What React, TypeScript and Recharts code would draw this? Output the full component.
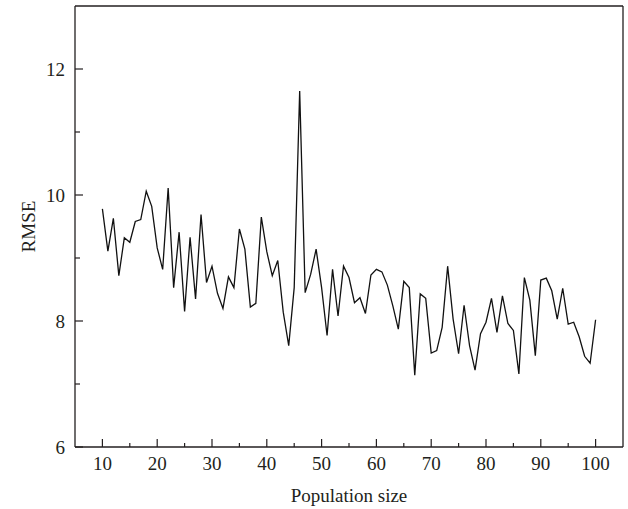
import { Line, LineChart, ReferenceLine, XAxis, YAxis } from "recharts";

const populationSizes = [
  10, 11, 12, 13, 14, 15, 16, 17, 18, 19, 20, 21, 22, 23, 24, 25, 26, 27, 28, 29,
  30, 31, 32, 33, 34, 35, 36, 37, 38, 39, 40, 41, 42, 43, 44, 45, 46, 47, 48, 49,
  50, 51, 52, 53, 54, 55, 56, 57, 58, 59, 60, 61, 62, 63, 64, 65, 66, 67, 68, 69,
  70, 71, 72, 73, 74, 75, 76, 77, 78, 79, 80, 81, 82, 83, 84, 85, 86, 87, 88, 89,
  90, 91, 92, 93, 94, 95, 96, 97, 98, 99, 100,
];

const rmseValues = [
  9.78, 9.11, 9.63, 8.72, 9.32, 9.25, 9.58, 9.61, 10.06, 9.82,
  9.16, 8.82, 10.11, 8.53, 9.41, 8.15, 9.33, 8.35, 9.69, 8.61,
  8.87, 8.44, 8.2, 8.7, 8.53, 9.46, 9.14, 8.22, 8.28, 9.65,
  9.1, 8.72, 8.96, 8.14, 7.61, 8.53, 11.65, 8.45, 8.74, 9.14,
  8.53, 7.77, 8.82, 8.08, 8.87, 8.69, 8.29, 8.37, 8.12, 8.73,
  8.82, 8.78, 8.57, 8.24, 7.87, 8.63, 8.53, 7.14, 8.43, 8.36,
  7.49, 7.53, 7.9, 8.87, 8.03, 7.48, 8.25, 7.61, 7.22, 7.8,
  7.98, 8.36, 7.82, 8.4, 7.96, 7.85, 7.16, 8.69, 8.33, 7.45,
  8.65, 8.68, 8.48, 8.03, 8.52, 7.95, 7.98, 7.75, 7.44, 7.33,
  8.02,
];

const xDomain = [5, 105];
const yDomain = [6, 13];
const xTicks = [10, 15, 20, 25, 30, 35, 40, 45, 50, 55, 60, 65, 70, 75, 80, 85, 90, 95, 100];
const xMajor = [10, 20, 30, 40, 50, 60, 70, 80, 90, 100];
const yTicks = [6, 7, 8, 9, 10, 11, 12];
const yMajor = [6, 8, 10, 12];

const data = populationSizes.map((p, i) => ({ p, rmse: rmseValues[i] }));

const FONT = '"Liberation Serif", "Times New Roman", serif';
const INK = "#231f20";

function XTick({ x, y, payload }: any) {
  const major = xMajor.includes(payload.value);
  return (
    <g>
      <line x1={x} x2={x} y1={y} y2={y - (major ? 8 : 4)} stroke={INK} strokeWidth={1.2} />
      {major && (
        <text x={x} y={y + 22.5} textAnchor="middle" fontSize={19} fontFamily={FONT} fill={INK}>
          {payload.value}
        </text>
      )}
    </g>
  );
}

function YTick({ x, y, payload }: any) {
  const major = yMajor.includes(payload.value);
  return (
    <g>
      <line x1={x} x2={x + (major ? 8 : 5)} y1={y} y2={y} stroke={INK} strokeWidth={1.2} />
      {major && (
        <text x={x - 10} y={y + 6.5} textAnchor="end" fontSize={19} fontFamily={FONT} fill={INK}>
          {payload.value}
        </text>
      )}
    </g>
  );
}

export default function App() {
  return (
    <div style={{ position: "absolute", left: 0, top: 0, background: "#fff" }}>
      <LineChart width={628} height={509} data={data} margin={{ top: 6, right: 5, left: 15, bottom: 12 }}>
        <XAxis
          dataKey="p"
          type="number"
          domain={xDomain}
          ticks={xTicks}
          interval={0}
          tickSize={0}
          tickMargin={0}
          tickLine={false}
          tick={<XTick />}
          height={50}
          axisLine={{ stroke: INK, strokeWidth: 1.3 }}
          label={{
            content: (props: any) => {
              const vb = props.viewBox;
              return (
                <text x={vb.x + vb.width / 2} y={vb.y + 55} textAnchor="middle" fontSize={19} fontFamily={FONT} fill={INK}>
                  Population size
                </text>
              );
            },
          }}
        />
        <YAxis
          type="number"
          domain={yDomain}
          allowDataOverflow
          ticks={yTicks}
          interval={0}
          tickSize={0}
          tickMargin={0}
          tickLine={false}
          tick={<YTick />}
          width={60}
          axisLine={{ stroke: INK, strokeWidth: 1.3 }}
          label={{
            content: (props: any) => {
              const vb = props.viewBox;
              const cx = vb.x + 13;
              const cy = vb.y + vb.height / 2;
              return (
                <text
                  x={cx}
                  y={cy}
                  transform={`rotate(-90 ${cx} ${cy})`}
                  textAnchor="middle"
                  dominantBaseline="central"
                  fontSize={19}
                  fontFamily={FONT}
                  fill={INK}
                >
                  RMSE
                </text>
              );
            },
          }}
        />
        <ReferenceLine y={yDomain[1]} stroke={INK} strokeWidth={1.3} ifOverflow="visible" />
        <ReferenceLine x={xDomain[1]} stroke={INK} strokeWidth={1.3} ifOverflow="visible" />
        <Line
          type="linear"
          dataKey="rmse"
          stroke="#111"
          strokeWidth={1.3}
          dot={false}
          activeDot={false}
          isAnimationActive={false}
        />
      </LineChart>
    </div>
  );
}
